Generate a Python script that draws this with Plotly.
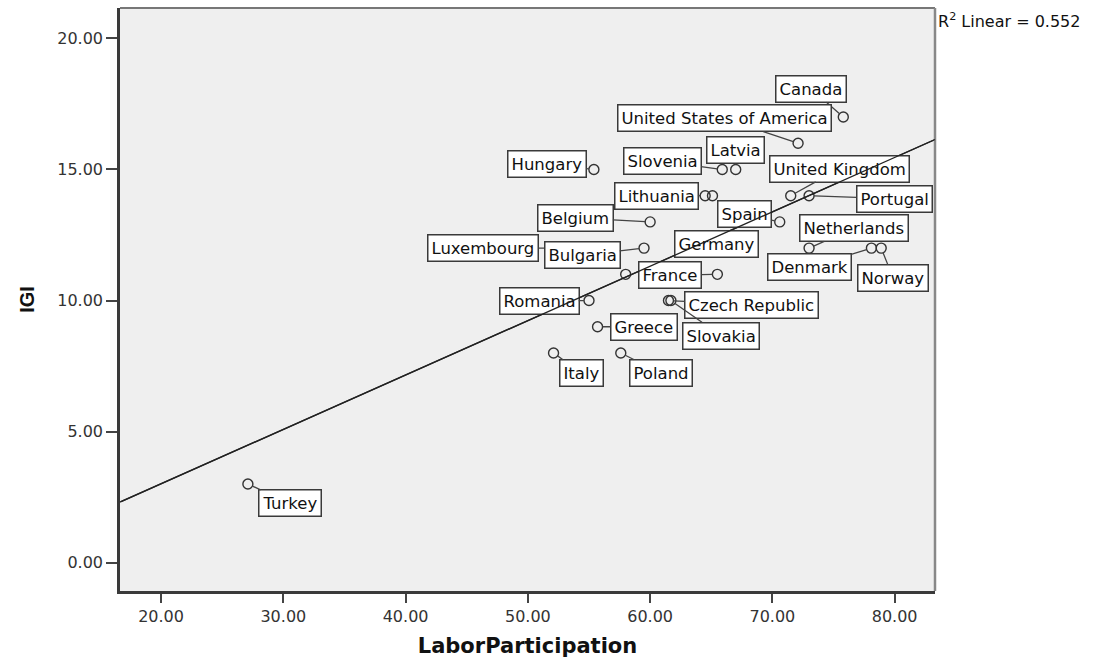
import numpy as np
import plotly.graph_objects as go

# Countries (blank entries are cases plotted without a label)
countries = [
    "Canada", "United States of America", "Latvia", "Slovenia", "Hungary",
    "Lithuania", "", "United Kingdom", "Portugal", "Belgium", "Spain",
    "Luxembourg", "Bulgaria", "Germany", "Netherlands", "Denmark", "Norway",
    "France", "", "Romania", "Czech Republic", "Slovakia", "Greece",
    "Italy", "Poland", "Turkey",
]
labor_participation = [
    75.8, 72.1, 67.0, 65.9, 55.4,
    64.5, 65.1, 71.5, 73.0, 60.0, 70.6,
    56.5, 59.5, 65.4, 73.0, 78.1, 78.9,
    65.5, 58.0, 55.0, 61.5, 61.7, 55.7,
    52.1, 57.6, 27.1,
]
igi = [
    17, 16, 15, 15, 15,
    14, 14, 14, 14, 13, 13,
    12, 12, 12, 12, 12, 12,
    11, 11, 10, 10, 10, 9,
    8, 8, 3,
]

x_ticks = [20, 30, 40, 50, 60, 70, 80]
y_ticks = [0, 5, 10, 15, 20]
r2_text = "R<sup>2</sup> Linear = 0.552"

# Label box placement: pixel offset of the box centre from its point, and
# whether a leader line joins box and point
label_offsets = {
    "Canada": (-32, -28, True),
    "United States of America": (-74, -25, True),
    "Latvia": (0, -19, True),
    "Slovenia": (-60, -8, True),
    "Hungary": (-47, -5, True),
    "Lithuania": (-49, 0, True),
    "United Kingdom": (49, -27, True),
    "Portugal": (85, 3, True),
    "Belgium": (-75, -4, True),
    "Spain": (-35, -8, True),
    "Luxembourg": (-124, 0, True),
    "Bulgaria": (-62, 7, True),
    "Germany": (0, -4, False),
    "Netherlands": (45, -20, True),
    "Denmark": (-62, 19, True),
    "Norway": (12, 30, True),
    "France": (-47, 1, True),
    "Romania": (-50, 0, True),
    "Czech Republic": (83, 4, True),
    "Slovakia": (50, 35, True),
    "Greece": (46, 0, True),
    "Italy": (28, 20, True),
    "Poland": (40, 20, True),
    "Turkey": (42, 19, True),
}

x_range = [16.64, 83.3]
y_range = [-1.08, 21.16]

# Least-squares linear fit of IGI on labour participation
slope, intercept = np.polyfit(labor_participation, igi, 1)
fit_x = np.array(x_range)
fit_y = intercept + slope * fit_x

label_font = dict(family="DejaVu Sans", size=16.5, color="#111")
tick_font = dict(family="DejaVu Sans", size=16, color="#333")

fig = go.Figure()

fig.add_trace(go.Scatter(
    x=labor_participation, y=igi, mode="markers", text=countries,
    marker=dict(symbol="circle-open", size=10, color="#333",
                line=dict(width=1.4, color="#333")),
    hovertemplate="%{text}<br>%{x:.2f}, %{y:.2f}<extra></extra>",
    showlegend=False,
))
fig.add_trace(go.Scatter(
    x=fit_x, y=fit_y, mode="lines",
    line=dict(color="#222", width=1.3),
    hoverinfo="skip", showlegend=False,
))

annotations = []
for name, xv, yv in zip(countries, labor_participation, igi):
    if not name:
        continue
    dx, dy, leader = label_offsets[name]
    box = dict(
        x=xv, y=yv, xref="x", yref="y", text=name, font=label_font,
        bgcolor="white", bordercolor="#3a3a3a", borderwidth=1.5, borderpad=3,
    )
    if leader:
        box.update(showarrow=True, ax=dx, ay=dy, arrowhead=0,
                   arrowwidth=1.3, arrowcolor="#444", standoff=5)
    else:
        box.update(showarrow=False, xshift=dx, yshift=-dy)
    annotations.append(box)

# Fit line repeated on top of the label boxes
annotations.append(dict(
    x=fit_x[1], y=fit_y[1], xref="x", yref="y",
    ax=fit_x[0], ay=fit_y[0], axref="x", ayref="y",
    text="", showarrow=True, arrowhead=0, arrowwidth=1.3, arrowcolor="#222",
))

annotations.append(dict(
    x=1, y=1, xref="paper", yref="paper", xanchor="left", yanchor="middle",
    xshift=1, yshift=-12, text=r2_text, showarrow=False,
    font=dict(family="DejaVu Sans", size=16, color="#111"),
))

fig.update_layout(
    width=1093, height=658,
    margin=dict(l=120, r=158, t=8, b=67),
    paper_bgcolor="white", plot_bgcolor="#EFEFEF",
    annotations=annotations,
    shapes=[
        dict(type="line", xref="paper", yref="paper", x0=0, x1=1, y0=1, y1=1,
             line=dict(color="#777", width=2), layer="above"),
        dict(type="line", xref="paper", yref="paper", x0=1, x1=1, y0=0, y1=1,
             line=dict(color="#888", width=2.5), layer="above"),
    ],
)

fig.update_xaxes(
    range=x_range, tickvals=x_ticks, tickformat=".2f", automargin=False,
    ticks="outside", ticklen=9, tickwidth=2, tickcolor="#444",
    showline=True, linecolor="#3a3a3a", linewidth=2.5,
    showgrid=False, zeroline=False, tickfont=tick_font,
    title=dict(text="<b>LaborParticipation</b>", standoff=19,
               font=dict(family="DejaVu Sans", size=21, color="#111")),
)
fig.update_yaxes(
    range=y_range, tickvals=y_ticks, tickformat=".2f", automargin=False,
    ticks="outside", ticklen=11, tickwidth=2, tickcolor="#444",
    showline=True, linecolor="#3a3a3a", linewidth=2.5,
    showgrid=False, zeroline=False, tickfont=tick_font,
    title=dict(text="<b>IGI</b>", standoff=18,
               font=dict(family="Liberation Sans", size=20, color="#111")),
)

fig.write_html("out.html")
